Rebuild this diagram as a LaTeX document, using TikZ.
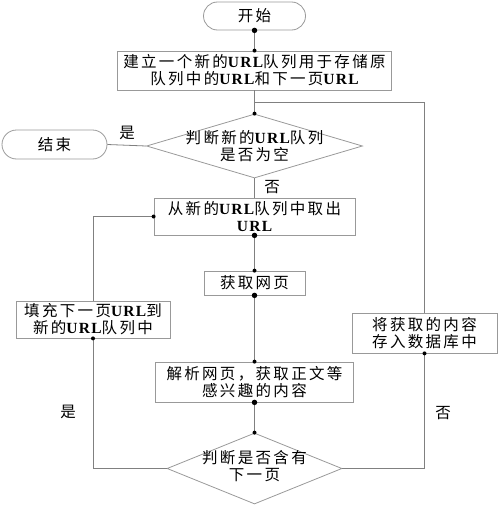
\documentclass[tikz,border=0pt]{standalone}
\usepackage{fontspec}
\setmainfont{Noto Sans CJK SC}[LetterSpace=15]
\newfontfamily\latf{Liberation Serif}[LetterSpace=8]
\newcommand\U{{\latf\bfseries URL}}
\usetikzlibrary{shapes.geometric}
\tikzset{
  ln/.style={draw=black!50, line width=0.8pt},
  txt/.style={align=center, font=\fontsize{15.5pt}{17pt}\selectfont},
  box/.style={txt, draw=black!40, line width=0.8pt, inner sep=0pt},
  term/.style={box, rounded corners=14pt},
  dec/.style={diamond, draw=black!40, line width=0.8pt, inner sep=0pt},
  dot/.style={circle, fill=black, inner sep=0pt, minimum size=4pt},
  bigdot/.style={circle, fill=black, inner sep=0pt, minimum size=5.5pt},
  lbl/.style={font=\fontsize{15.5pt}{17pt}\selectfont, inner sep=0pt}
}
\begin{document}
\begin{tikzpicture}[x=1pt,y=-1pt]
\useasboundingbox (0,0) rectangle (500,506);
\node[term, minimum width=102pt, minimum height=28pt] (start) at (254.5,16) {开始};
\node[box, minimum width=274pt, minimum height=39pt] (b1) at (254.5,70.5) {建立一个新的\U 队列用于存储原\\队列中的\U 和下一页\U};
\node[dec, minimum width=216pt, minimum height=64pt] (d1) at (254.5,146) {};
\node[txt] (d1t) at (254.5,146.5) {判断新的\U 队列\\是否为空};
\node[term, minimum width=105pt, minimum height=29pt, rounded corners=14.5pt] (end) at (54.5,144.5) {结束};
\node[box, minimum width=201pt, minimum height=37pt] (b2) at (254.5,216.5) {从新的\U 队列中取出\\\U};
\node[box, minimum width=101pt, minimum height=24pt] (b3) at (254.5,283) {获取网页};
\node[box, minimum width=154pt, minimum height=37pt] (bl) at (93,319.5) {填充下一页\U 到\\新的\U 队列中};
\node[box, minimum width=145pt, minimum height=40pt] (br) at (424.5,333) {将获取的内容\\存入数据库中};
\node[box, minimum width=198pt, minimum height=40pt] (b4) at (254.5,382) {解析网页，获取正文等\\感兴趣的内容};
\node[dec, minimum width=175pt, minimum height=71pt] (d2) at (254.5,468.5) {};
\node[txt] (d2t) at (254.5,466) {判断是否含有\\下一页};
\coordinate (j) at (254.5,102);
\draw[ln] (start.south) -- (b1.north);
\draw[ln] (b1.south) -- (d1.north);
\draw[ln] (d1.west) -- (end.east);
\draw[ln] (d1.south) -- (b2.north);
\draw[ln] (b2.south) -- (b3.north);
\draw[ln] (b3.south) -- (b4.north);
\draw[ln] (b4.south) -- (d2.north);
\draw[ln] (d2.west) -| (bl.south);
\draw[ln] (bl.north) |- (b2.west);
\draw[ln] (d2.east) -| (br.south);
\draw[ln] (br.north) |- (j);
\node[bigdot] (p1) at (start.south) {};
\node[dot] (p2) at (b1.north) {};
\node[dot] (p3) at (d1.north) {};
\node[dot] (p4) at (b2.west) {};
\node[bigdot] (p5) at (b2.south) {};
\node[dot] (p6) at (b3.north) {};
\node[bigdot] (p7) at (b3.south) {};
\node[dot] (p8) at (bl.south) {};
\node[dot] (p9) at (br.south) {};
\node[dot] (p10) at (b4.north) {};
\node[bigdot] (p11) at (b4.south) {};
\node[dot] (p12) at (d2.north) {};
\node[lbl] (l1) at (127,133) {是};
\node[lbl] (l2) at (272,187) {否};
\node[lbl] (l3) at (68,412) {是};
\node[lbl] (l4) at (443,413) {否};
\end{tikzpicture}
\end{document}
